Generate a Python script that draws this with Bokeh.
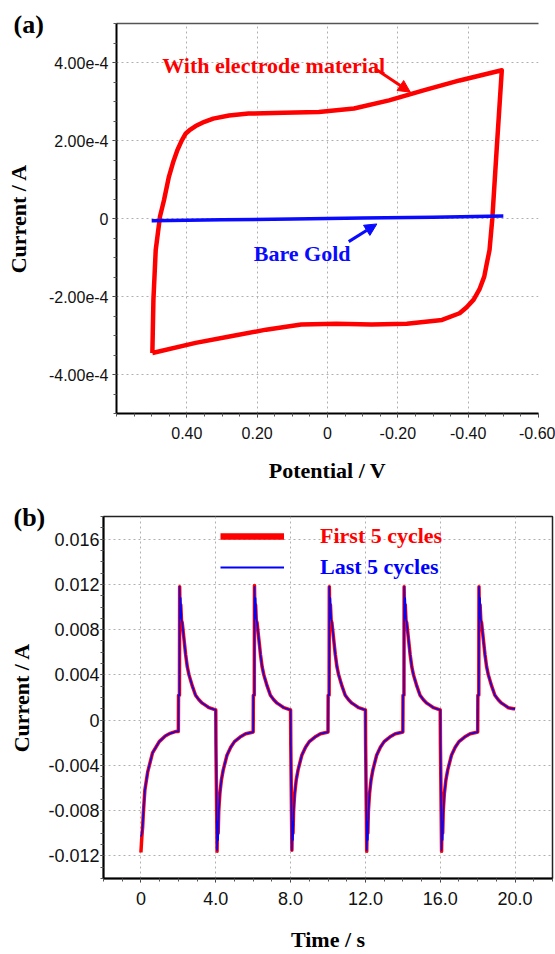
from bokeh.plotting import figure
from bokeh.models import (Range1d, FixedTicker, CustomJSTickFormatter, LinearAxis, Label,
                          Arrow, NormalHead, Legend, LegendItem, Title)
from bokeh.embed import file_html
from bokeh.resources import INLINE

# ---------------- panel (a): cyclic voltammogram ----------------
cv_potential = [0.498, 0.495, 0.4885, 0.4763, 0.465, 0.451, 0.438, 0.427, 0.415, 0.403,
                0.39, 0.375, 0.35, 0.325, 0.28, 0.2247, 0.1245, 0.0247, -0.0754, -0.175,
                -0.2755, -0.3756, -0.4956,
                -0.4809, -0.4687, -0.4607, -0.452, -0.4457, -0.432, -0.4156, -0.395,
                -0.3756, -0.3257, -0.2255, -0.1254, -0.025, 0.0746, 0.1748, 0.2749, 0.375, 0.498]
cv_current = [-3.45e-4, -2.08e-4, -0.81e-4, 0.05e-4, 0.47e-4, 1.07e-4, 1.47e-4, 1.75e-4,
              1.99e-4, 2.18e-4, 2.28e-4, 2.37e-4, 2.48e-4, 2.56e-4, 2.64e-4, 2.69e-4,
              2.71e-4, 2.73e-4, 2.82e-4, 3.03e-4, 3.29e-4, 3.54e-4, 3.80e-4,
              1.75e-4, 0.0, -0.81e-4, -1.20e-4, -1.49e-4, -1.82e-4, -2.08e-4, -2.28e-4,
              -2.43e-4, -2.60e-4, -2.70e-4, -2.72e-4, -2.70e-4, -2.72e-4, -2.85e-4,
              -3.02e-4, -3.19e-4, -3.45e-4]
gold_potential = [0.50, 0.30, 0.10, -0.10, -0.30, -0.50]
gold_current = [-0.06e-4, -0.035e-4, -0.01e-4, 0.01e-4, 0.035e-4, 0.065e-4]

a_xticks = [0.4, 0.2, 0.0, -0.2, -0.4, -0.6]
a_xlabels = ["0.40", "0.20", "0", "-0.20", "-0.40", "-0.60"]
a_yticks = [-4e-4, -2e-4, 0.0, 2e-4, 4e-4]
a_ylabels = ["-4.00e-4", "-2.00e-4", "0", "2.00e-4", "4.00e-4"]

# annotation anchors (data units)
a_text1 = ("With electrode material", 0.47, 3.93e-4)
a_arrow1 = (-0.1356, 3.84e-4, -0.2355, 3.24e-4)
a_text2 = ("Bare Gold", 0.2096, -0.89e-4)
a_arrow2 = (-0.0604, -0.593e-4, -0.1404, -0.14e-4)

# ---------------- panel (b): current vs time ----------------
time_s = [
    0.00, 0.05, 0.09, 0.13, 0.21, 0.36, 0.62, 0.98, 1.30, 1.52, 1.88, 2.00,
    2.01, 2.06, 2.07, 2.10, 2.13, 2.17, 2.21, 2.30, 2.39, 2.48, 2.57, 2.75, 2.92, 3.10, 3.28, 3.46, 3.64, 3.91, 4.00,
    4.01, 4.05, 4.07, 4.10, 4.13, 4.16, 4.22, 4.30, 4.40, 4.60, 4.80, 5.00, 5.30, 5.60, 5.90, 6.00,
    6.01, 6.06, 6.07, 6.10, 6.13, 6.17, 6.21, 6.30, 6.39, 6.48, 6.57, 6.75, 6.92, 7.10, 7.28, 7.46, 7.64, 7.91, 8.00,
    8.01, 8.05, 8.07, 8.10, 8.13, 8.16, 8.22, 8.30, 8.40, 8.60, 8.80, 9.00, 9.30, 9.60, 9.90, 10.00,
    10.01, 10.06, 10.07, 10.10, 10.13, 10.17, 10.21, 10.30, 10.39, 10.48, 10.57, 10.75, 10.92, 11.10, 11.28, 11.46, 11.64, 11.91, 12.00,
    12.01, 12.05, 12.07, 12.10, 12.13, 12.16, 12.22, 12.30, 12.40, 12.60, 12.80, 13.00, 13.30, 13.60, 13.90, 14.00,
    14.01, 14.06, 14.07, 14.10, 14.13, 14.17, 14.21, 14.30, 14.39, 14.48, 14.57, 14.75, 14.92, 15.10, 15.28, 15.46, 15.64, 15.91, 16.00,
    16.01, 16.05, 16.07, 16.10, 16.13, 16.16, 16.22, 16.30, 16.40, 16.60, 16.80, 17.00, 17.30, 17.60, 17.90, 18.00,
    18.01, 18.06, 18.07, 18.10, 18.13, 18.17, 18.21, 18.30, 18.39, 18.48, 18.57, 18.75, 18.92, 19.10, 19.28, 19.46, 19.64, 19.91, 20.00,
]
first_current = [
    -0.0117, -0.0103, -0.0095, -0.0082, -0.0062, -0.0046, -0.0029, -0.0019, -0.0014, -0.0012, -0.0010, -0.0010,
    0.0022, 0.0022, 0.0118, 0.0085, 0.0102, 0.0088, 0.0086, 0.0072, 0.0058, 0.0047, 0.0040, 0.0030, 0.0022, 0.0018, 0.0015, 0.0013, 0.0011, 0.00095, 0.0009,
    -0.0021, -0.0082, -0.0116, -0.0085, -0.0100, -0.0080, -0.0065, -0.0053, -0.0044, -0.0031, -0.0024, -0.0019, -0.0015, -0.0012, -0.0011, -0.00105,
    0.0022, 0.0022, 0.0119, 0.0085, 0.0102, 0.0088, 0.0086, 0.0072, 0.0058, 0.0047, 0.0040, 0.0030, 0.0022, 0.0018, 0.0015, 0.0013, 0.0011, 0.00095, 0.0009,
    -0.0021, -0.0082, -0.0115, -0.0085, -0.0100, -0.0080, -0.0065, -0.0053, -0.0044, -0.0031, -0.0024, -0.0019, -0.0015, -0.0012, -0.0011, -0.00105,
    0.0022, 0.0022, 0.0118, 0.0085, 0.0102, 0.0088, 0.0086, 0.0072, 0.0058, 0.0047, 0.0040, 0.0030, 0.0022, 0.0018, 0.0015, 0.0013, 0.0011, 0.00095, 0.0009,
    -0.0021, -0.0082, -0.0116, -0.0085, -0.0100, -0.0080, -0.0065, -0.0053, -0.0044, -0.0031, -0.0024, -0.0019, -0.0015, -0.0012, -0.0011, -0.00105,
    0.0022, 0.0022, 0.0118, 0.0085, 0.0102, 0.0088, 0.0086, 0.0072, 0.0058, 0.0047, 0.0040, 0.0030, 0.0022, 0.0018, 0.0015, 0.0013, 0.0011, 0.00095, 0.0009,
    -0.0021, -0.0082, -0.0116, -0.0085, -0.0100, -0.0080, -0.0065, -0.0053, -0.0044, -0.0031, -0.0024, -0.0019, -0.0015, -0.0012, -0.0011, -0.00105,
    0.0022, 0.0022, 0.0118, 0.0085, 0.0102, 0.0088, 0.0086, 0.0072, 0.0058, 0.0047, 0.0040, 0.0030, 0.0022, 0.0018, 0.0015, 0.0013, 0.0011, 0.00100, 0.0010,
]
last_current = [
    -0.0103, -0.0100, -0.0094, -0.0082, -0.0062, -0.0046, -0.0029, -0.0019, -0.0014, -0.0012, -0.0010, -0.0010,
    0.0022, 0.0022, 0.0118, 0.0090, 0.0108, 0.0089, 0.0086, 0.0072, 0.0058, 0.0047, 0.0040, 0.0030, 0.0022, 0.0018, 0.0015, 0.0013, 0.0011, 0.00095, 0.0009,
    -0.0021, -0.0082, -0.0115, -0.0090, -0.0106, -0.0082, -0.0065, -0.0053, -0.0044, -0.0031, -0.0024, -0.0019, -0.0015, -0.0012, -0.0011, -0.00105,
    0.0022, 0.0022, 0.0118, 0.0090, 0.0108, 0.0089, 0.0086, 0.0072, 0.0058, 0.0047, 0.0040, 0.0030, 0.0022, 0.0018, 0.0015, 0.0013, 0.0011, 0.00095, 0.0009,
    -0.0021, -0.0082, -0.0115, -0.0090, -0.0106, -0.0082, -0.0065, -0.0053, -0.0044, -0.0031, -0.0024, -0.0019, -0.0015, -0.0012, -0.0011, -0.00105,
    0.0022, 0.0022, 0.0118, 0.0090, 0.0108, 0.0089, 0.0086, 0.0072, 0.0058, 0.0047, 0.0040, 0.0030, 0.0022, 0.0018, 0.0015, 0.0013, 0.0011, 0.00095, 0.0009,
    -0.0021, -0.0082, -0.0115, -0.0090, -0.0106, -0.0082, -0.0065, -0.0053, -0.0044, -0.0031, -0.0024, -0.0019, -0.0015, -0.0012, -0.0011, -0.00105,
    0.0022, 0.0022, 0.0118, 0.0090, 0.0108, 0.0089, 0.0086, 0.0072, 0.0058, 0.0047, 0.0040, 0.0030, 0.0022, 0.0018, 0.0015, 0.0013, 0.0011, 0.00095, 0.0009,
    -0.0021, -0.0082, -0.0115, -0.0090, -0.0106, -0.0082, -0.0065, -0.0053, -0.0044, -0.0031, -0.0024, -0.0019, -0.0015, -0.0012, -0.0011, -0.00105,
    0.0022, 0.0022, 0.0118, 0.0090, 0.0108, 0.0089, 0.0086, 0.0072, 0.0058, 0.0047, 0.0040, 0.0030, 0.0022, 0.0018, 0.0015, 0.0013, 0.0011, 0.00100, 0.0010,
]
series_names = ["First 5 cycles", "Last 5 cycles"]

b_xticks = [0.0, 4.0, 8.0, 12.0, 16.0, 20.0]
b_xlabels = ["0", "4.0", "8.0", "12.0", "16.0", "20.0"]
b_yticks = [-0.012, -0.008, -0.004, 0.0, 0.004, 0.008, 0.012, 0.016]
b_ylabels = ["-0.012", "-0.008", "-0.004", "0", "0.004", "0.008", "0.012", "0.016"]

panel_tags = ["(a)", "(b)"]

SERIF = "Liberation Serif"
SANS = "Liberation Sans"


def fixed_formatter(tick_values, tick_texts):
    return CustomJSTickFormatter(args=dict(tvals=tick_values, ttexts=tick_texts), code="""
        let best = 0; let d = Infinity;
        for (let i = 0; i < tvals.length; i++) {
            const e = Math.abs(tvals[i] - tick);
            if (e < d) { d = e; best = i; }
        }
        return ttexts[best];
    """)


def style_axis(ax, font_size, label_standoff, axis_standoff):
    ax.axis_line_width = 2
    ax.axis_line_color = "black"
    ax.major_tick_in = 0
    ax.major_tick_out = 4
    ax.minor_tick_in = 0
    ax.minor_tick_out = 3
    ax.major_tick_line_color = "#333333"
    ax.minor_tick_line_color = "#555555"
    ax.major_label_text_font = SANS
    ax.major_label_text_font_size = font_size
    ax.major_label_text_color = "#111111"
    ax.major_label_standoff = label_standoff
    ax.axis_label_text_font = SERIF
    ax.axis_label_text_font_style = "bold"
    ax.axis_label_text_font_size = "22px"
    ax.axis_label_text_color = "black"
    ax.axis_label_standoff = axis_standoff


def style_grid(p):
    p.grid.grid_line_color = "#b0b0b0"
    p.grid.grid_line_dash = "2 3"
    p.grid.grid_line_width = 1


def minor_list(lo, step, n):
    return [round(lo + step * i, 6) for i in range(n + 1)]


def text_label(spec, color, size):
    return Label(x=spec[1], y=spec[2], text=spec[0], text_color=color, text_font=SERIF,
                 text_font_style="bold", text_font_size=size, text_baseline="middle",
                 text_align="left")


def panel_tag(text, offset, standoff):
    return Title(text=text, align="left", vertical_align="bottom", offset=offset,
                 standoff=standoff, text_font=SERIF, text_font_style="bold",
                 text_font_size="26px", text_color="black")


# ---------------- figure (a) ----------------
p1 = figure(width=555, height=488, output_backend="svg", toolbar_location=None, title=None,
            x_range=Range1d(0.6, -0.6), y_range=Range1d(-5e-4, 5e-4),
            min_border_left=116, min_border_right=17, min_border_top=23, min_border_bottom=75,
            x_axis_label="Potential / V", y_axis_label="Current / A")
p1.outline_line_color = None
p1.background_fill_color = "white"

xt1 = FixedTicker(ticks=a_xticks, minor_ticks=minor_list(-0.6, 0.05, 24))
yt1 = FixedTicker(ticks=a_yticks, minor_ticks=minor_list(-5e-4, 0.5e-4, 20))
p1.xaxis.ticker = xt1
p1.yaxis.ticker = yt1
p1.xgrid.ticker = xt1
p1.ygrid.ticker = yt1
p1.xaxis.formatter = fixed_formatter(a_xticks, a_xlabels)
p1.yaxis.formatter = fixed_formatter(a_yticks, a_ylabels)
style_axis(p1.xaxis[0], "16px", 9, 16)
style_axis(p1.yaxis[0], "16px", 4, 15)
style_grid(p1)

top_ax = LinearAxis(ticker=FixedTicker(ticks=[]), major_tick_out=0, minor_tick_out=0,
                    major_label_text_font_size="0px", axis_line_color="#555555",
                    axis_line_width=1.5)
p1.add_layout(top_ax, "above")
p1.add_layout(panel_tag(panel_tags[0], -103, -31), "above")

p1.line(cv_potential, cv_current, line_color="#ff0000", line_width=4.5, line_join="round")
p1.line(gold_potential, gold_current, line_color="#0a0aff", line_width=3.5, line_join="round")

p1.add_layout(text_label(a_text1, "#ff0000", "22px"))
p1.add_layout(Arrow(end=NormalHead(size=12, fill_color="#ff0000", line_color="#ff0000"),
                    x_start=a_arrow1[0], y_start=a_arrow1[1], x_end=a_arrow1[2], y_end=a_arrow1[3],
                    line_color="#ff0000", line_width=3))
p1.add_layout(text_label(a_text2, "#0a0aff", "22px"))
p1.add_layout(Arrow(end=NormalHead(size=12, fill_color="#0a0aff", line_color="#0a0aff"),
                    x_start=a_arrow2[0], y_start=a_arrow2[1], x_end=a_arrow2[2], y_end=a_arrow2[3],
                    line_color="#0a0aff", line_width=3))

# ---------------- figure (b) ----------------
p2 = figure(width=555, height=466, output_backend="svg", toolbar_location=None, title=None,
            x_range=Range1d(-2, 22), y_range=Range1d(-0.014, 0.018),
            min_border_left=103, min_border_right=3, min_border_top=28, min_border_bottom=75,
            x_axis_label="Time / s", y_axis_label="Current / A")
p2.outline_line_color = "#222222"
p2.outline_line_width = 1.5
p2.background_fill_color = "white"

xt2 = FixedTicker(ticks=b_xticks, minor_ticks=minor_list(-2, 1.0, 24))
yt2 = FixedTicker(ticks=b_yticks, minor_ticks=minor_list(-0.014, 0.001, 32))
p2.xaxis.ticker = xt2
p2.yaxis.ticker = yt2
p2.xgrid.ticker = xt2
p2.ygrid.ticker = yt2
p2.xaxis.formatter = fixed_formatter(b_xticks, b_xlabels)
p2.yaxis.formatter = fixed_formatter(b_yticks, b_ylabels)
style_axis(p2.xaxis[0], "18px", 9, 19)
style_axis(p2.yaxis[0], "18px", 1, 11)
p2.yaxis[0].major_tick_out = 3
style_grid(p2)
p2.add_layout(panel_tag(panel_tags[1], -90, -31), "above")

p2.line(time_s, first_current, line_color="#ff0000", line_width=3.5, line_join="round")
p2.line(time_s, last_current, line_color="#0000ff", line_width=1.5, line_join="round")

# one-point proxies (draw nothing in the frame) carrying the legend line styles
leg_red = p2.line(x=time_s[:1], y=first_current[:1], line_color="#ff0000", line_width=6.5)
leg_blue = p2.line(x=time_s[:1], y=last_current[:1], line_color="#0000ff", line_width=2)

for name, rend, color, loc in [(series_names[0], leg_red, "#ff0000", (117, 329)),
                               (series_names[1], leg_blue, "#0000ff", (117, 298))]:
    leg = Legend(items=[LegendItem(label=name, renderers=[rend])], location=loc,
                 glyph_width=64, glyph_height=20, label_height=20, label_standoff=36,
                 padding=0, margin=0, spacing=0, border_line_color=None,
                 background_fill_alpha=0, label_text_font=SERIF, label_text_font_style="bold",
                 label_text_font_size="22px", label_text_color=color)
    p2.add_layout(leg, "center")

# two independent roots stacked on the page (no frame alignment between panels)
open("out.html", "w").write(file_html([p1, p2], INLINE))
